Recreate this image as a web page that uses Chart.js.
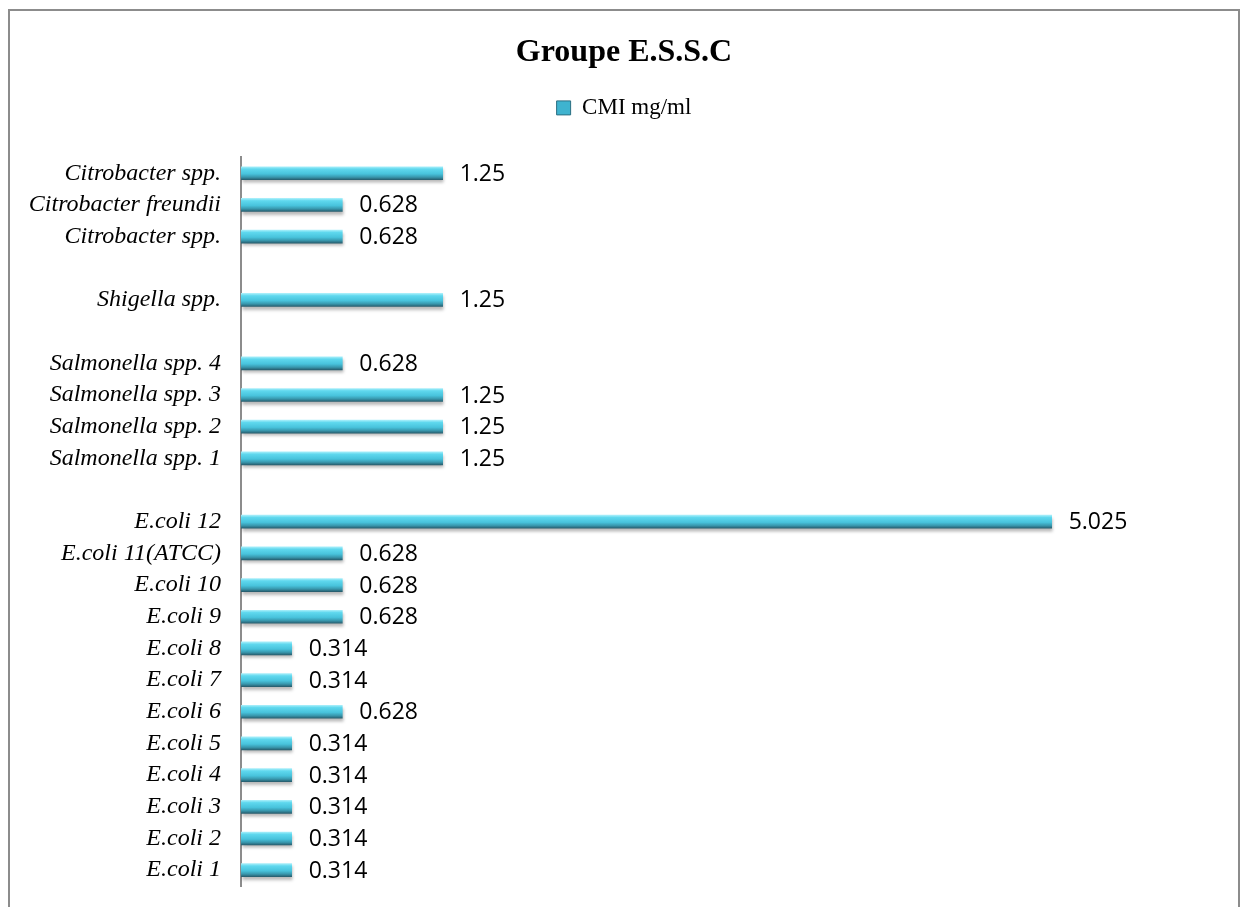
<!DOCTYPE html>
<html>
<head>
<meta charset="utf-8">
<script src="https://cdn.jsdelivr.net/npm/chart.js@4.4.0/dist/chart.umd.min.js"></script>
<style>
  html, body { margin: 0; padding: 0; background: #fff; }
  #wrap { position: relative; width: 1240px; height: 907px; }
  #frame { position: absolute; left: 8px; top: 9px; width: 1232px; height: 920px; box-sizing: border-box; border: 2px solid #8c8c8c; border-bottom: none; }
  canvas { position: absolute; left: 0; top: 0; }
</style>
</head>
<body>
<div id="wrap">
  <div id="frame"></div>
  <canvas id="bar-chart" width="1240" height="907"></canvas>
</div>
<script>
// categories, top to bottom ('' = empty gap row)
var strains = [
  'Citrobacter spp.', 'Citrobacter freundii', 'Citrobacter spp.', '',
  'Shigella spp.', '',
  'Salmonella spp. 4', 'Salmonella spp. 3', 'Salmonella spp. 2', 'Salmonella spp. 1', '',
  'E.coli 12', 'E.coli 11(ATCC)', 'E.coli 10', 'E.coli 9', 'E.coli 8', 'E.coli 7',
  'E.coli 6', 'E.coli 5', 'E.coli 4', 'E.coli 3', 'E.coli 2', 'E.coli 1'
];
var cmi = [
  1.25, 0.628, 0.628, null,
  1.25, null,
  0.628, 1.25, 1.25, 1.25, null,
  5.025, 0.628, 0.628, 0.628, 0.314, 0.314,
  0.628, 0.314, 0.314, 0.314, 0.314, 0.314
];
var seriesName = 'CMI mg/ml';

function barFill(context) {
  if (context.type !== 'data') return '#3fb3cf';
  var chart = context.chart;
  var yScale = chart.scales.y;
  if (!yScale) return '#4bc3dc';
  var yc = yScale.getPixelForValue(context.dataIndex);
  var g = chart.ctx.createLinearGradient(0, yc - 6.5, 0, yc + 6.5);
  g.addColorStop(0, '#a6eefa');
  g.addColorStop(0.18, '#5fd8ee');
  g.addColorStop(0.55, '#48c3dc');
  g.addColorStop(0.8, '#3897ad');
  g.addColorStop(1, '#285f70');
  return g;
}

// soft shadow under the bars
var barShadow = {
  id: 'barShadow',
  beforeDatasetDraw: function(chart) {
    var ctx = chart.ctx;
    ctx.save();
    ctx.shadowColor = 'rgba(0,0,0,0.28)';
    ctx.shadowBlur = 3;
    ctx.shadowOffsetY = 3;
    ctx.shadowOffsetX = 1;
  },
  afterDatasetDraw: function(chart) {
    chart.ctx.restore();
  }
};

var valueLabels = {
  id: 'valueLabels',
  afterDatasetsDraw: function(chart) {
    var ctx = chart.ctx;
    var meta = chart.getDatasetMeta(0);
    ctx.save();
    ctx.font = '23px "Open Sans"';
    ctx.fillStyle = '#000';
    ctx.textAlign = 'left';
    ctx.textBaseline = 'middle';
    meta.data.forEach(function(bar, i) {
      var v = cmi[i];
      if (v === null) return;
      ctx.fillText(String(v), bar.x + 17, bar.y + 1);
    });
    ctx.restore();
  }
};

var legendSpace = {
  id: 'legendSpace',
  beforeInit: function(chart) {
    var fit = chart.legend.fit;
    chart.legend.fit = function() {
      fit.bind(chart.legend)();
      this.height += 28;
    };
  }
};

var chartEl = document.getElementById('bar-chart');
var myChart = new Chart(chartEl, {
  type: 'bar',
  data: {
    labels: strains,
    datasets: [
      {
        label: seriesName,
        data: cmi,
        backgroundColor: barFill,
        borderWidth: 0,
        barThickness: 13
      }
    ]
  },
  plugins: [barShadow, valueLabels, legendSpace],
  options: {
    indexAxis: 'y',
    responsive: false,
    animation: false,
    layout: { padding: { left: 10, right: 2, top: 0, bottom: 21 } },
    plugins: {
      title: {
        display: true,
        text: 'Groupe E.S.S.C',
        color: '#000',
        font: { family: '"Liberation Serif"', size: 32, weight: 'bold' },
        padding: { top: 34, bottom: 14 }
      },
      legend: {
        display: true,
        labels: {
          color: '#000',
          boxWidth: 14,
          boxHeight: 14,
          font: { family: '"Liberation Serif"', size: 23 },
          generateLabels: function() {
            return [{ text: seriesName, fillStyle: '#3fb3cf', strokeStyle: '#2b6f82', lineWidth: 1, datasetIndex: 0 }];
          }
        }
      },
      tooltip: { enabled: false }
    },
    scales: {
      x: {
        display: false,
        min: 0,
        max: 6.18
      },
      y: {
        afterFit: function(scale) {
          scale.width = 231;
          scale.paddingTop = 0;
          scale.paddingBottom = 0;
        },
        grid: { display: false, drawTicks: false },
        border: { display: true, color: '#8c8c8c', width: 2 },
        ticks: {
          color: '#000',
          padding: 20,
          autoSkip: false,
          font: { family: '"Liberation Serif"', size: 24, style: 'italic' }
        }
      }
    }
  }
});
</script>
</body>
</html>
